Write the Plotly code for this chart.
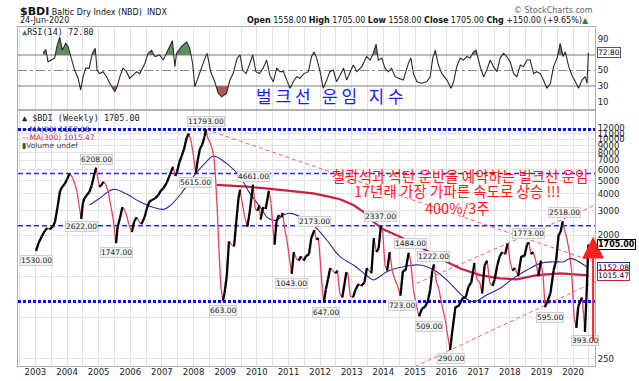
import math
import plotly.graph_objects as go

# ---------------- data ----------------
price_dates = [2003.00, 2003.02, 2003.10, 2003.20, 2003.30, 2003.38, 2003.45, 2003.55, 2003.62, 2003.70,
               2003.78, 2003.85, 2003.92, 2004.00, 2004.08, 2004.12, 2004.18, 2004.25, 2004.32, 2004.38,
               2004.45, 2004.50, 2004.55, 2004.62, 2004.70, 2004.78, 2004.85, 2004.92, 2004.97, 2005.02,
               2005.08, 2005.15, 2005.22, 2005.30, 2005.38, 2005.46, 2005.55, 2005.60, 2005.68, 2005.75,
               2005.80, 2005.88, 2005.95, 2006.05, 2006.12, 2006.20, 2006.28, 2006.35, 2006.45, 2006.52,
               2006.60, 2006.68, 2006.78, 2006.88, 2006.96, 2007.05, 2007.15, 2007.25, 2007.35, 2007.42,
               2007.48, 2007.55, 2007.62, 2007.70, 2007.78, 2007.85, 2007.92, 2008.00, 2008.07, 2008.13,
               2008.20, 2008.28, 2008.35, 2008.39, 2008.45, 2008.52, 2008.58, 2008.65, 2008.70, 2008.75,
               2008.80, 2008.86, 2008.93, 2008.98, 2009.05, 2009.12, 2009.20, 2009.28, 2009.35, 2009.42,
               2009.47, 2009.55, 2009.62, 2009.70, 2009.78, 2009.88, 2009.95, 2010.02, 2010.08, 2010.12,
               2010.20, 2010.28, 2010.38, 2010.45, 2010.52, 2010.56, 2010.62, 2010.70, 2010.78, 2010.82,
               2010.88, 2010.95, 2011.02, 2011.10, 2011.17, 2011.25, 2011.32, 2011.40, 2011.48, 2011.55,
               2011.65, 2011.72, 2011.82, 2011.88, 2011.95, 2012.02, 2012.08, 2012.12, 2012.18, 2012.25,
               2012.32, 2012.40, 2012.48, 2012.55, 2012.62, 2012.70, 2012.76, 2012.83, 2012.88, 2012.95,
               2013.04, 2013.12, 2013.22, 2013.30, 2013.40, 2013.48, 2013.55, 2013.62, 2013.70, 2013.78,
               2013.85, 2013.92, 2013.98, 2014.05, 2014.12, 2014.20, 2014.28, 2014.36, 2014.45, 2014.54,
               2014.62, 2014.70, 2014.80, 2014.86, 2014.95, 2015.05, 2015.13, 2015.22, 2015.32, 2015.40,
               2015.48, 2015.55, 2015.60, 2015.68, 2015.76, 2015.86, 2015.96, 2016.05, 2016.11, 2016.18,
               2016.28, 2016.36, 2016.45, 2016.52, 2016.60, 2016.70, 2016.78, 2016.88, 2016.96, 2017.05,
               2017.12, 2017.20, 2017.28, 2017.36, 2017.45, 2017.52, 2017.60, 2017.68, 2017.76, 2017.85,
               2017.93, 2018.00, 2018.08, 2018.16, 2018.26, 2018.36, 2018.46, 2018.54, 2018.60, 2018.66,
               2018.74, 2018.82, 2018.90, 2018.98, 2019.05, 2019.11, 2019.18, 2019.28, 2019.38, 2019.46,
               2019.54, 2019.60, 2019.67, 2019.72, 2019.80, 2019.88, 2019.95, 2020.03, 2020.10, 2020.16,
               2020.22, 2020.28, 2020.33, 2020.37, 2020.42, 2020.48]
price_values = [1600, 1530, 1750, 1950, 2150, 2250, 2200, 2300, 2500, 3200,
                4200, 4500, 4700, 5100, 5600, 5500, 5200, 4700, 4100, 3300,
                2622, 3400, 3700, 3900, 4100, 4600, 5400, 6208, 5200, 4500,
                4600, 4900, 4700, 4200, 3300, 2600, 1747, 2300, 2700, 3200,
                3100, 2800, 2400, 2100, 2500, 2700, 2500, 2400, 2700, 3100,
                3500, 3600, 3700, 3900, 4200, 4400, 4800, 5500, 6300, 5400,
                5800, 6800, 7500, 8500, 10200, 11039, 9800, 7500, 5615, 7000,
                8500, 9200, 10500, 11793, 10200, 9500, 8700, 7200, 5000, 3000,
                1600, 850, 663, 760, 1000, 1800, 1700, 1650, 2500, 3700,
                4291, 3300, 2700, 2300, 3000, 4661, 3100, 3000, 3300, 2600,
                3200, 3100, 4209, 3400, 2100, 1700, 2500, 2800, 2700, 2900,
                2200, 1850, 1400, 1043, 1500, 1350, 1300, 1400, 1300, 1400,
                1450, 1900, 2173, 1850, 1900, 1150, 750, 647, 800, 950,
                1150, 1100, 1050, 1100, 750, 700, 850, 1070, 1050, 720,
                700, 800, 880, 850, 900, 1150, 1100, 1050, 1900, 1500,
                1600, 2337, 2100, 1200, 1100, 1500, 1100, 950, 850, 723,
                1100, 1100, 1484, 1300, 800, 600, 509, 580, 600, 650,
                800, 1100, 1222, 900, 800, 600, 478, 350, 290, 400,
                600, 600, 650, 700, 700, 850, 900, 1250, 950, 900,
                750, 1200, 1300, 900, 850, 950, 1200, 1400, 1500, 1450,
                1740, 1300, 1100, 1150, 1000, 1400, 1400, 1700, 1773, 1450,
                1500, 1300, 1000, 1300, 1000, 595, 650, 750, 1100, 1300,
                2000, 2100, 2518, 2200, 1900, 1500, 1100, 500, 420, 600,
                650, 700, 520, 393, 700, 1705]

ma90_dates = [2004.72, 2005.03, 2005.46, 2005.88, 2006.30, 2006.72, 2007.04, 2007.25, 2007.57, 2007.99,
              2008.41, 2008.62, 2009.04, 2009.47, 2009.78, 2010.10, 2010.36, 2010.63, 2010.84, 2011.05,
              2011.58, 2011.89, 2012.21, 2012.63, 2013.05, 2013.26, 2013.50, 2013.68, 2013.90, 2014.11,
              2014.63, 2015.16, 2015.69, 2016.11, 2016.53, 2016.85, 2017.27, 2017.69, 2018.11, 2018.54,
              2018.96, 2019.38, 2019.70, 2019.91, 2020.48]
ma90_values = [3310, 3710, 4310, 3980, 3500, 3190, 3080, 3260, 3920, 5330,
               6860, 7550, 6670, 5330, 4030, 3220, 2650, 2570, 2800, 2880,
               2570, 2240, 1840, 1390, 1208, 1110, 1000, 940, 1000, 1080,
               1175, 1208, 1080, 888, 710, 652, 730, 817, 966, 1110,
               1242, 1277, 1277, 1352, 1152.08]

ma300_dates = [2008.73, 2009.20, 2009.68, 2010.20, 2010.73, 2011.25, 2011.78, 2012.20, 2012.63, 2013.05,
               2013.36, 2013.68, 2014.00, 2014.52, 2015.16, 2015.90, 2016.43, 2017.06, 2017.69, 2018.22,
               2018.85, 2019.59, 2020.48]
ma300_values = [4640, 4600, 4510, 4400, 4260, 4150, 4030, 3850, 3650, 3310,
                2970, 2500, 2200, 1940, 1640, 1310, 1140, 1020, 966, 950,
                1020, 1050, 1015.47]

rsi_dates = [2003.24, 2003.33, 2003.40, 2003.51, 2003.61, 2003.68, 2003.77, 2003.85, 2003.96, 2004.03,
             2004.14, 2004.24, 2004.35, 2004.43, 2004.51, 2004.59, 2004.70, 2004.80, 2004.89, 2004.95,
             2005.03, 2005.14, 2005.25, 2005.35, 2005.51, 2005.58, 2005.67, 2005.77, 2005.88, 2005.98,
             2006.09, 2006.20, 2006.30, 2006.46, 2006.56, 2006.67, 2006.78, 2006.93, 2007.04, 2007.14,
             2007.25, 2007.33, 2007.41, 2007.46, 2007.62, 2007.78, 2007.88, 2007.97, 2008.04, 2008.15,
             2008.25, 2008.36, 2008.43, 2008.54, 2008.67, 2008.78, 2008.89, 2009.04, 2009.15, 2009.25,
             2009.38, 2009.47, 2009.55, 2009.66, 2009.76, 2009.87, 2009.97, 2010.08, 2010.20, 2010.31,
             2010.41, 2010.52, 2010.63, 2010.73, 2010.84, 2010.94, 2011.05, 2011.15, 2011.26, 2011.36,
             2011.49, 2011.63, 2011.73, 2011.81, 2011.89, 2012.00, 2012.10, 2012.21, 2012.31, 2012.42,
             2012.52, 2012.63, 2012.74, 2012.84, 2012.95, 2013.05, 2013.16, 2013.32, 2013.47, 2013.58,
             2013.68, 2013.77, 2013.84, 2013.95, 2014.05, 2014.16, 2014.26, 2014.37, 2014.48, 2014.63,
             2014.79, 2014.87, 2014.95, 2015.06, 2015.21, 2015.37, 2015.48, 2015.56, 2015.64, 2015.74,
             2015.85, 2016.01, 2016.14, 2016.22, 2016.32, 2016.43, 2016.53, 2016.64, 2016.74, 2016.85,
             2016.93, 2017.01, 2017.06, 2017.17, 2017.27, 2017.38, 2017.48, 2017.59, 2017.69, 2017.80,
             2017.90, 2018.01, 2018.12, 2018.22, 2018.33, 2018.43, 2018.54, 2018.64, 2018.75, 2018.85,
             2018.96, 2019.06, 2019.17, 2019.28, 2019.38, 2019.49, 2019.59, 2019.68, 2019.75, 2019.86,
             2019.96, 2020.07, 2020.17, 2020.28, 2020.38, 2020.44, 2020.48]
rsi_values = [72, 77, 61, 63.5, 66, 81, 93, 76, 85, 81,
              66, 50.6, 40, 25, 42, 53, 53, 72, 78.6, 50.6,
              46, 48.5, 42, 33.5, 22.6, 29, 42, 53, 48.5, 40,
              44, 48.5, 46, 59, 72, 76, 68, 70, 63.5, 72,
              83, 88.5, 55, 72, 81, 87, 78.6, 59, 29, 42,
              55, 66, 72, 48.5, 35.5, 20.6, 16, 20.6, 37.7, 46,
              66, 70, 50.6, 46, 57, 70, 48.5, 46, 53, 63.5,
              44, 35.5, 53, 48.5, 48.5, 37.7, 27, 35.5, 42, 40,
              46, 48.5, 68, 74, 66, 48.5, 27, 37.7, 48.5, 50.6,
              35.5, 44, 53, 37.7, 48.5, 57, 48.5, 55, 68, 63.5,
              72, 84, 63.5, 66, 53, 48.5, 53, 42, 40, 37.7,
              59, 66, 46, 35.5, 33.5, 35.5, 42, 66, 76, 57,
              46, 37.7, 27, 35.5, 55, 66, 63.5, 68, 66, 74,
              76, 61, 55, 42, 50.6, 63.5, 55, 48.5, 66, 72,
              68, 61, 46, 42, 57, 55, 63.5, 63.5, 46, 48.5,
              46, 37.7, 27, 33.5, 55, 66, 85, 68, 74, 55,
              44, 35.5, 27, 37.7, 42, 33.5, 72.8]

# labelled turning points and the pixel offset of each label
peak_dates = [2008.39, 2004.92, 2008.07, 2009.88, 2004.45, 2011.82, 2005.55, 2003.02, 2008.93, 2011.10,
              2012.12, 2013.92, 2014.80, 2015.60, 2014.54, 2015.13, 2016.11, 2018.60, 2019.67, 2019.11,
              2020.37]
peak_values = [11793, 6208, 5615, 4661, 2622, 2173, 1747, 1530, 663, 1043,
               647, 2337, 1484, 1222, 723, 509, 290, 1773, 2518, 595,
               393]
peak_dy = [8, 8, -9, 8, -8, 9, -9, -10, -10, -10,
           -10, 9, 9, 8, -10, -10, -9, 9, 9, -10,
           -9]
peak_dx = [0, 0, 0, 0, 0, 0, 0, 0, 0, 0,
           2, 0, 2, 0, 2, 10, 1, 0, 2, 5,
           0]

level_dotted = [11793, 655]
level_dashed = [5615, 2337]

trend_down = ([2008.39, 2020.69], [11793, 1270])
channel_low = ([2015.00, 2020.69], [219, 912])
channel_high = ([2015.05, 2020.69], [887, 3310])

years = list(range(2003, 2021))
price_ticks = [250, 500, 1000, 2000, 3000, 4000, 5000, 6000, 7000, 8000, 9000, 10000, 11000, 12000]
price_tick_text = ["250", "", "", "2000", "3000", "4000", "5000", "6000", "7000", "8000",
                   "9000", "10000", "11000", "12000"]
rsi_ticks = [10, 30, 50, 90]

X0, X1 = 2002.45, 2020.69
FONT = "DejaVu Sans"
KR = "Noto Sans CJK KR"

fig = go.Figure()

# ---------------- RSI panel ----------------
def with_crossings(xs, ys, level):
    ox, oy = [xs[0]], [ys[0]]
    for i in range(1, len(xs)):
        y0, y1 = ys[i - 1], ys[i]
        if (y0 - level) * (y1 - level) < 0:
            t = (level - y0) / (y1 - y0)
            ox.append(xs[i - 1] + t * (xs[i] - xs[i - 1]))
            oy.append(level)
        ox.append(xs[i])
        oy.append(ys[i])
    return ox, oy

cx, cy = with_crossings(rsi_dates, rsi_values, 70)
fig.add_trace(go.Scatter(x=cx, y=[70] * len(cx), xaxis="x2", yaxis="y2", mode="lines",
                         line=dict(width=0), hoverinfo="skip"))
fig.add_trace(go.Scatter(x=cx, y=[max(v, 70) for v in cy], xaxis="x2", yaxis="y2", mode="lines",
                         line=dict(width=0), fill="tonexty", fillcolor="#5e8f5e", hoverinfo="skip"))
cx, cy = with_crossings(rsi_dates, rsi_values, 30)
fig.add_trace(go.Scatter(x=cx, y=[30] * len(cx), xaxis="x2", yaxis="y2", mode="lines",
                         line=dict(width=0), hoverinfo="skip"))
fig.add_trace(go.Scatter(x=cx, y=[min(v, 30) for v in cy], xaxis="x2", yaxis="y2", mode="lines",
                         line=dict(width=0), fill="tonexty", fillcolor="#b05a5a", hoverinfo="skip"))
for lvl, dash, col in [(70, "solid", "#7a7a7a"), (30, "solid", "#7a7a7a"), (50, "dashdot", "#8a8a8a")]:
    fig.add_trace(go.Scatter(x=[X0, X1], y=[lvl, lvl], xaxis="x2", yaxis="y2", mode="lines",
                             line=dict(color=col, width=1.2, dash=dash), hoverinfo="skip"))
fig.add_trace(go.Scatter(x=rsi_dates, y=rsi_values, xaxis="x2", yaxis="y2", mode="lines",
                         line=dict(color="#2a2a2a", width=1.1)))

# ---------------- price panel ----------------
for lvl in level_dotted:
    fig.add_trace(go.Scatter(x=[X0, X1], y=[lvl, lvl], mode="lines",
                             line=dict(color="#1010ee", width=3, dash="3px,2px"), hoverinfo="skip"))
for lvl in level_dashed:
    fig.add_trace(go.Scatter(x=[X0, X1], y=[lvl, lvl], mode="lines",
                             line=dict(color="#2a2aee", width=1.5, dash="5px,3px"), hoverinfo="skip"))
for tx, ty in [trend_down, channel_low, channel_high]:
    fig.add_trace(go.Scatter(x=tx, y=ty, mode="lines",
                             line=dict(color="#ff5a5a", width=1, dash="4px,3px"), hoverinfo="skip"))

fig.add_trace(go.Scatter(x=ma300_dates, y=ma300_values, mode="lines", line=dict(color="#cc1f3f", width=2.2)))
fig.add_trace(go.Scatter(x=ma90_dates, y=ma90_values, mode="lines", line=dict(color="#2a2a9e", width=1.1),
                         line_shape="spline"))

ux, uy, dx_, dy_ = [], [], [], []
for i in range(1, len(price_dates)):
    if price_values[i] >= price_values[i - 1]:
        ux += [price_dates[i - 1], price_dates[i], None]
        uy += [price_values[i - 1], price_values[i], None]
    else:
        dx_ += [price_dates[i - 1], price_dates[i], None]
        dy_ += [price_values[i - 1], price_values[i], None]
fig.add_trace(go.Scatter(x=dx_, y=dy_, mode="lines", line=dict(color="#e8405e", width=1.3)))
fig.add_trace(go.Scatter(x=ux, y=uy, mode="lines", line=dict(color="#000000", width=2.3)))

ann = []
for d, v, oy, ox in zip(peak_dates, peak_values, peak_dy, peak_dx):
    ann.append(dict(x=d, y=math.log10(v), xref="x", yref="y", text=f"{v:.2f}", showarrow=False,
                    yshift=oy, xshift=ox, font=dict(family=FONT, size=7.5, color="#222"),
                    bgcolor="#f3f3f3", bordercolor="#cfcfcf", borderwidth=1, borderpad=0))

# red arrow
ann.append(dict(x=2020.63, y=math.log10(1950), ax=2020.63, ay=math.log10(330), xref="x", yref="y",
                axref="x", ayref="y", text="", showarrow=True, arrowhead=2, arrowsize=2.2,
                arrowwidth=2, arrowcolor="#ff2020"))

# last-value boxes at the right axis
for val, col, fw in [(1705.00, "#000000", True), (1152.08, "#2a2a9e", False), (1015.47, "#cc1f3f", False)]:
    t = f"{val:.2f}"
    ann.append(dict(x=1.003, y=math.log10(val), xref="paper", yref="y", xanchor="left",
                    text=("<b>%s</b>" % t) if fw else t,
                    showarrow=False, font=dict(family=FONT, size=8 if fw else 7.5, color="#000"),
                    bgcolor="white", bordercolor=col, borderwidth=1, borderpad=0))
ann.append(dict(x=1.003, y=72.8, xref="paper", yref="y2", xanchor="left", text="72.80", showarrow=False,
                font=dict(family=FONT, size=7.5, color="#000"), bgcolor="white", bordercolor="#555",
                borderwidth=1, borderpad=0))

ann += [
    dict(x=0.0, y=1.046, xref="paper", yref="paper", xanchor="left", yanchor="middle", showarrow=False,
         text="<b>$BDI</b><span style='font-size:8px'> Baltic Dry Index (NBD)  INDX</span>",
         font=dict(family=FONT, size=11, color="#111")),
    dict(x=0.0, y=1.019, xref="paper", yref="paper", xanchor="left", yanchor="middle", showarrow=False,
         text="24-Jun-2020", font=dict(family=FONT, size=8, color="#111")),
    dict(x=1.0, y=1.048, xref="paper", yref="paper", xanchor="right", yanchor="middle", showarrow=False,
         text="© StockCharts.com", font=dict(family=FONT, size=8, color="#666")),
    dict(x=0.993, y=1.019, xref="paper", yref="paper", xanchor="right", yanchor="middle", showarrow=False,
         text="<b>Open</b> 1558.00 <b>High</b> 1705.00 <b>Low</b> 1558.00 <b>Close</b> 1705.00 "
              "<b>Chg</b> +150.00 (+9.65%)<span style='color:#2a8a2a'>▲</span>",
         font=dict(family=FONT, size=8, color="#111")),
    dict(x=0.003, y=0.985, xref="paper", yref="paper", xanchor="left", yanchor="middle", showarrow=False,
         text="<span style='color:#4a7a4a'>▲</span>RSI(14) 72.80",
         font=dict(family="DejaVu Sans Mono", size=8.5, color="#222")),
    dict(x=0.003, y=0.732, xref="paper", yref="paper", xanchor="left", yanchor="middle", showarrow=False,
         text="▲ $BDI (Weekly) 1705.00", font=dict(family="DejaVu Sans Mono", size=8.5, color="#222")),
    dict(x=0.003, y=0.699, xref="paper", yref="paper", xanchor="left", yanchor="middle", showarrow=False,
         text="—MA(90) 1152.08", font=dict(family=FONT, size=7.5, color="#2a2a9e")),
    dict(x=0.003, y=0.675, xref="paper", yref="paper", xanchor="left", yanchor="middle", showarrow=False,
         text="—MA(300) 1015.47", font=dict(family=FONT, size=7.5, color="#cc1f3f")),
    dict(x=0.003, y=0.651, xref="paper", yref="paper", xanchor="left", yanchor="middle", showarrow=False,
         text="▮Volume undef", font=dict(family=FONT, size=7.5, color="#444")),
    dict(x=0.541, y=0.797, xref="paper", yref="paper", xanchor="center", yanchor="middle", showarrow=False,
         text="벌\u00a0크\u00a0선\u00a0\u00a0\u00a0운\u00a0임\u00a0\u00a0\u00a0지\u00a0수",
         font=dict(family=KR, size=17, color="#1a1aff")),
    dict(x=0.541, y=0.563, xref="paper", yref="paper", xanchor="left", yanchor="middle", showarrow=False,
         text="철광석과 석탄 운반을 예약하는 벌크선 운임", font=dict(family=KR, size=14.5, color="#ff1a1a")),
    dict(x=0.579, y=0.517, xref="paper", yref="paper", xanchor="left", yanchor="middle", showarrow=False,
         text="17년래 가장 가파른 속도로 상승 !!!", font=dict(family=KR, size=14.5, color="#ff1a1a")),
    dict(x=0.702, y=0.469, xref="paper", yref="paper", xanchor="left", yanchor="middle", showarrow=False,
         text="400%/3주", font=dict(family=KR, size=14.5, color="#ff1a1a")),
]

grid = "#e2e2e2"
half_years = [y + 0.5 for y in range(2002, 2021)]
fig.update_layout(
    width=639, height=381,
    margin=dict(l=18, r=44, t=27, b=15, autoexpand=False),
    paper_bgcolor="white", plot_bgcolor="white",
    showlegend=False,
    font=dict(family=FONT, size=8.5, color="#222"),
    annotations=ann,
    xaxis=dict(domain=[0, 1], anchor="y", range=[X0, X1], tickmode="array", tickvals=years,
               ticktext=[str(y) for y in years], showgrid=True, gridcolor=grid, zeroline=False,
               minor=dict(tickmode="array", tickvals=half_years, showgrid=True, gridcolor=grid, ticklen=0),
               showline=True, linecolor="#b0b0b0", mirror=True, ticks="", tickfont=dict(size=8.5),
               ticklabelstandoff=-2, automargin=False),
    xaxis2=dict(domain=[0, 1], anchor="y2", matches="x", range=[X0, X1], tickmode="array", tickvals=years,
                showticklabels=False, showgrid=True, gridcolor=grid, zeroline=False,
                minor=dict(tickmode="array", tickvals=half_years, showgrid=True, gridcolor=grid, ticklen=0),
                showline=True, linecolor="#b0b0b0", mirror=True, ticks="", automargin=False),
    yaxis=dict(domain=[0, 0.752], anchor="x", type="log", range=[2.345, 4.206], side="right",
               tickmode="array", tickvals=price_ticks, ticktext=price_tick_text, showgrid=True,
               gridcolor=grid, zeroline=False, showline=True, linecolor="#b0b0b0", mirror=True,
               ticks="", tickfont=dict(size=8.5), automargin=False),
    yaxis2=dict(domain=[0.758, 1], anchor="x2", range=[0.3, 106.1], side="right", tickmode="array",
                tickvals=rsi_ticks, showgrid=False, zeroline=False, showline=True, linecolor="#b0b0b0",
                mirror=True, ticks="", tickfont=dict(size=8.5), automargin=False),
)

fig.write_html("out.html", config={"displayModeBar": False},
               post_script="document.body.style.margin='0px';")
